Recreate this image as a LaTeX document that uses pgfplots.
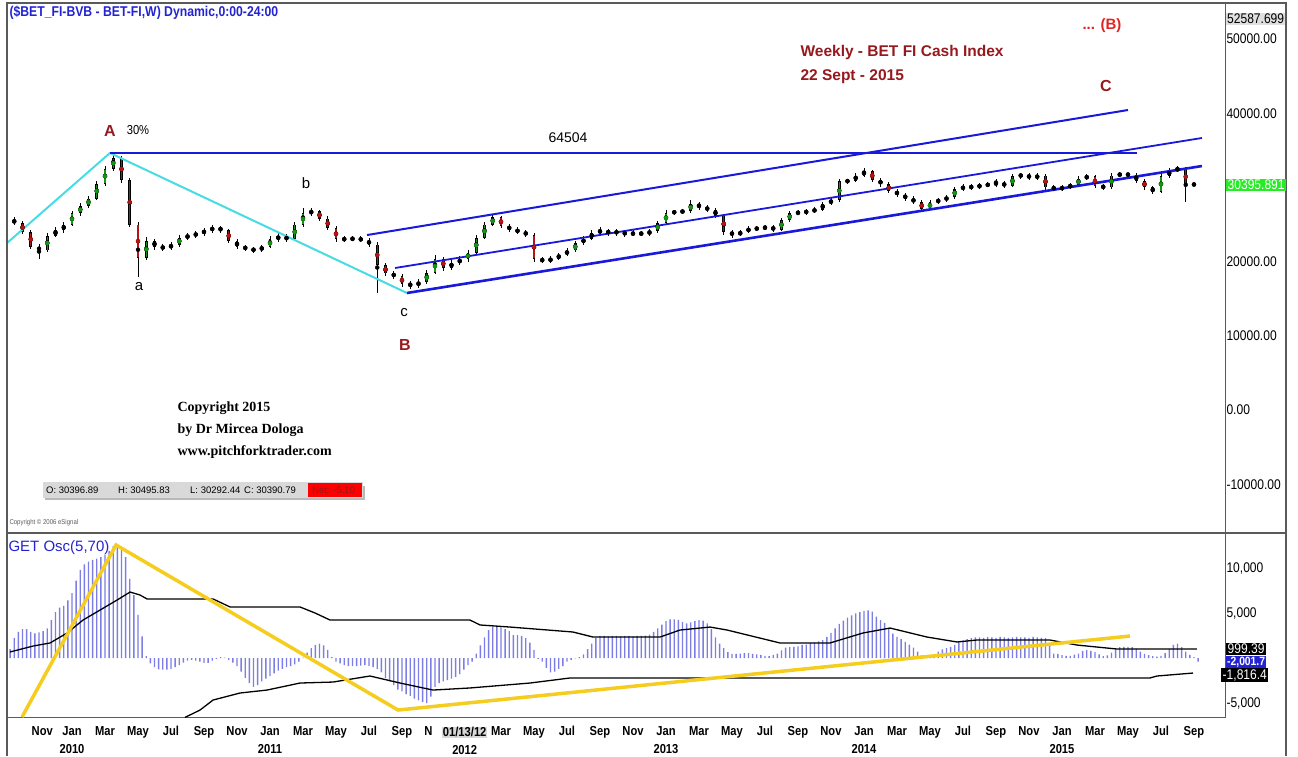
\documentclass[border=0pt]{standalone}
\usepackage{pgfplots}
\pgfplotsset{compat=1.18}
\usepackage{pgfplotstable}
\usepackage{fontspec}
\setmainfont{Liberation Sans}
\newfontfamily\serifb{Liberation Serif}
\newfontfamily\narrow{Liberation Sans}[FakeStretch=0.86]
\setlength{\fboxsep}{1pt}

\definecolor{darkred}{RGB}{150,25,30}
\definecolor{brred}{RGB}{225,35,35}
\definecolor{ttlblue}{RGB}{35,35,210}
\definecolor{pfblue}{RGB}{25,25,220}
\definecolor{cyanl}{RGB}{70,220,225}
\definecolor{yell}{RGB}{245,205,30}
\definecolor{histc}{RGB}{125,125,230}
\definecolor{cgreen}{RGB}{20,150,20}
\definecolor{cred}{RGB}{180,20,20}
\definecolor{framec}{RGB}{90,90,90}
\definecolor{valgreen}{RGB}{40,235,40}

% weekly BET-FI, sampled every half month; t = months since Jan 2010
\pgfplotstableread{
t o h l c
-3.5 25600 26000 24900 25200
-3.0 25200 25500 23700 24000
-2.5 24000 24300 21700 22000
-2.0 22000 22400 20300 21500
-1.5 21500 23800 21300 23500
-1.0 23500 24600 23300 24200
-0.5 24200 25300 23900 25000
0.0 25000 26800 24800 26500
0.5 26500 27900 26200 27500
1.0 27500 28900 27200 28500
1.5 28500 30800 28300 30500
2.0 30500 32900 30200 32500
2.5 32500 34600 32200 34000
3.0 34000 34300 30600 31000
3.5 31000 31300 24600 25000
4.0 25000 25300 17900 20500
4.5 20500 23300 20200 22800
5.0 22800 23100 21600 22000
5.5 22000 22400 21400 21800
6.0 21800 22700 21500 22300
6.5 22300 23600 22000 23200
7.0 23200 23900 22900 23500
7.5 23500 24100 23200 23800
8.0 23800 24500 23500 24200
8.5 24200 24900 23900 24600
9.0 24600 24800 23900 24200
9.5 24200 24400 22500 22800
10.0 22800 23000 21700 22000
10.5 22000 22300 21400 21700
11.0 21700 22000 21200 21500
11.5 21500 22300 21300 22000
12.0 22000 23400 21800 23000
12.5 23000 23800 22700 23400
13.0 23400 23700 22600 23000
13.5 23000 25300 22800 25000
14.0 25000 27200 24700 26500
14.5 26500 27200 26200 26800
15.0 26800 27000 25500 25800
15.5 25800 26100 24200 24500
16.0 24500 24800 22700 23000
16.5 23000 23400 22700 23000
17.0 23000 23400 22800 23100
17.5 23100 23400 22600 22900
18.0 22900 23200 22000 22300
18.5 22300 22600 15800 19500
19.0 19500 19800 18000 18400
19.5 18400 18800 17600 18000
20.0 18000 18300 16600 17000
20.5 17000 17400 16300 16800
21.0 16800 17600 16500 17200
21.5 17200 18900 17000 18500
22.0 18500 20900 18300 20300
22.5 20300 20600 18800 19200
23.0 19200 20200 18900 19800
23.5 19800 20700 19500 20300
24.0 20300 21600 20000 21200
24.5 21200 23600 21000 23200
25.0 23200 25400 23000 25000
25.5 25000 26300 24800 26000
26.0 26000 26200 24500 24800
26.5 24800 25100 24000 24300
27.0 24300 24600 23700 24000
27.5 24000 24300 23300 23600
28.0 23600 23900 20000 20300
28.5 20300 20600 19800 20100
29.0 20100 20700 19800 20400
29.5 20400 21200 20200 20900
30.0 20900 21800 20700 21500
30.5 21500 22800 21300 22500
31.0 22500 23400 22200 23100
31.5 23100 24200 22900 23900
32.0 23900 24600 23600 24200
32.5 24200 24400 23500 23800
33.0 23800 24400 23500 24100
33.5 24100 24300 23300 23600
34.0 23600 24200 23400 23900
34.5 23900 24100 23400 23700
35.0 23700 24400 23500 24100
35.5 24100 25500 23900 25200
36.0 25200 26900 25000 26600
36.5 26600 27000 26300 26700
37.0 26700 27100 26400 26800
37.5 26800 28300 26600 27800
38.0 27800 28000 27000 27300
38.5 27300 27600 26700 27000
39.0 27000 27200 25900 26200
39.5 26200 26400 23600 24000
40.0 24000 24300 23200 23600
40.5 23600 24300 23400 24000
41.0 24000 24800 23800 24500
41.5 24500 24800 24100 24400
42.0 24400 25000 24200 24700
42.5 24700 24900 24000 24300
43.0 24300 25900 24100 25600
43.5 25600 26800 25400 26500
44.0 26500 26900 26300 26600
44.5 26600 27100 26300 26800
45.0 26800 27300 26500 27000
45.5 27000 28100 26800 27800
46.0 27800 28600 27600 28300
46.5 28300 31100 28100 30800
47.0 30800 31200 30500 30900
47.5 30900 31900 30700 31600
48.0 31600 32600 31400 32200
48.5 32200 32400 30700 31000
49.0 31000 31300 30100 30400
49.5 30400 30700 29200 29500
50.0 29500 29800 28700 29000
50.5 29000 29300 28200 28500
51.0 28500 28800 27700 28000
51.5 28000 28300 26800 27100
52.0 27100 28300 26900 28000
52.5 28000 28600 27800 28300
53.0 28300 29000 28000 28700
53.5 28700 30100 28500 29800
54.0 29800 30400 29500 30100
54.5 30100 30400 29700 30000
55.0 30000 30600 29800 30300
55.5 30300 30700 30000 30400
56.0 30400 31200 30100 30600
56.5 30600 30900 29900 30200
57.0 30200 31800 30000 31500
57.5 31500 32000 31200 31700
58.0 31700 31900 31000 31300
58.5 31300 31900 31000 31600
59.0 31600 31800 29700 30000
59.5 30000 30300 29500 29800
60.0 29800 30300 29500 30000
60.5 30000 30600 29800 30300
61.0 30300 31500 30100 31200
61.5 31200 31800 31000 31500
62.0 31500 31700 29900 30200
62.5 30200 30400 29700 30000
63.0 30000 31900 29800 31600
63.5 31600 32100 31400 31800
64.0 31800 32000 31400 31700
64.5 31700 31900 30600 30900
65.0 30900 31100 29700 30000
65.5 30000 30200 29100 29400
66.0 29400 31800 29200 31500
66.5 31500 32600 31300 32300
67.0 32300 32900 32100 32500
67.5 32500 32700 28000 30400
68.0 30396.89 30495.83 30292.44 30390.79
}\candles

% GET oscillator (5,70), weekly
\pgfplotstableread{
t v
-3.75 1000
-3.5 2200
-3.25 2900
-3 3200
-2.75 3200
-2.5 2900
-2.25 2750
-2 2850
-1.75 3000
-1.5 3300
-1.25 4200
-1 5100
-0.75 5600
-0.5 5800
-0.25 6400
0 7200
0.25 8600
0.5 9800
0.75 10400
1 10700
1.25 10900
1.5 11050
1.75 11200
2 11500
2.25 11900
2.5 12450
2.75 12550
3 12000
3.25 11200
3.5 8800
3.75 7000
4 4800
4.25 2400
4.5 200
4.75 -600
5 -1000
5.25 -1250
5.5 -1300
5.75 -1300
6 -1200
6.25 -1000
6.5 -800
6.75 -500
7 -300
7.25 -200
7.5 -300
7.75 -400
8 -550
8.25 -550
8.5 -300
8.75 -100
9 100
9.25 50
9.5 -200
9.75 -500
10 -900
10.25 -1500
10.5 -2200
10.75 -2800
11 -3200
11.25 -3000
11.5 -2600
11.75 -2300
12 -2000
12.25 -1700
12.5 -1400
12.75 -1200
13 -1000
13.25 -900
13.5 -700
13.75 -400
14 50
14.25 600
14.5 1100
14.75 1450
15 1600
15.25 1400
15.5 900
15.75 100
16 -400
16.25 -600
16.5 -800
16.75 -900
17 -900
17.25 -900
17.5 -850
17.75 -800
18 -900
18.25 -1000
18.5 -1200
18.75 -1600
19 -2200
19.25 -2600
19.5 -3000
19.75 -3500
20 -3700
20.25 -4000
20.5 -4200
20.75 -4500
21 -4700
21.25 -4900
21.5 -5000
21.75 -4300
22 -3200
22.25 -2800
22.5 -2600
22.75 -2450
23 -2300
23.25 -2100
23.5 -1800
23.75 -1300
24 -800
24.25 -400
24.5 500
24.75 1400
25 2300
25.25 3100
25.5 3500
25.75 3500
26 3400
26.25 3200
26.5 3000
26.75 2550
27 2550
27.25 2450
27.5 2200
27.75 1700
28 900
28.25 -100
28.5 -400
28.75 -1100
29 -1600
29.25 -1500
29.5 -1200
29.75 -900
30 -400
30.25 -200
30.5 -50
30.75 100
31 400
31.25 1000
31.5 1600
31.75 2200
32 2450
32.25 2450
32.5 2400
32.75 2450
33 2450
33.25 2400
33.5 2450
33.75 2450
34 2400
34.25 2450
34.5 2450
34.75 2500
35 2600
35.25 2900
35.5 3300
35.75 3700
36 4100
36.25 4300
36.5 4300
36.75 4250
37 4000
37.25 3850
37.5 3950
37.75 4100
38 4200
38.25 4150
38.5 3850
38.75 3200
39 2300
39.25 1600
39.5 1100
39.75 650
40 450
40.25 450
40.5 480
40.75 550
41 550
41.25 450
41.5 400
41.75 350
42 250
42.25 200
42.5 350
42.75 500
43 850
43.25 1150
43.5 1200
43.75 1250
44 1300
44.25 1450
44.5 1500
44.75 1650
45 1750
45.25 1850
45.5 2000
45.75 2350
46 2800
46.25 3300
46.5 3800
46.75 4150
47 4500
47.25 4750
47.5 4950
47.75 5100
48 5250
48.25 5300
48.5 5150
48.75 4600
49 4200
49.25 3900
49.5 3300
49.75 2700
50 2350
50.25 2100
50.5 1800
50.75 1500
51 1150
51.25 700
51.5 300
51.75 150
52 200
52.25 300
52.5 700
52.75 950
53 1100
53.25 1250
53.5 1450
53.75 1750
54 1950
54.25 2100
54.5 2200
54.75 2300
55 2300
55.25 2250
55.5 2350
55.75 2300
56 2250
56.25 2350
56.5 2300
56.75 2250
57 2300
57.25 2350
57.5 2300
57.75 2300
58 2250
58.25 2350
58.5 2300
58.75 2250
59 2200
59.25 1500
59.5 500
59.75 450
60 330
60.25 250
60.5 250
60.75 380
61 500
61.25 780
61.5 880
61.75 800
62 650
62.25 400
62.5 200
62.75 300
63 600
63.25 950
63.5 1200
63.75 1250
64 1250
64.25 1200
64.5 1050
64.75 700
65 450
65.25 330
65.5 200
65.75 150
66 250
66.25 550
66.5 1000
66.75 1450
67 1600
67.25 1200
67.5 700
67.75 350
68 100
68.25 -400
}\osc

\begin{document}
\begin{tikzpicture}

% ---- price panel
\begin{axis}[
  at={(7pt,-533pt)}, anchor=south west, scale only axis,
  width=1219pt, height=530pt,
  xmin=-3.94, xmax=69.94, ymin=-16577, ymax=54852,
  axis line style={draw=framec, line width=1pt},
  xtick=\empty, scaled y ticks=false,
  ytick={-10000,0,10000,20000,40000,50000},
  yticklabels={-10000.00,0.00,10000.00,20000.00,40000.00,50000.00},
  yticklabel pos=right, major tick length=0pt,
  yticklabel style={font=\narrow\fontsize{14}{14}\selectfont, anchor=west, xshift=-3pt},
]
% wicks
\addplot[only marks, mark=none, black, error bars/.cd, y dir=both, y explicit,
  error mark=none, error bar style={draw=black, line width=0.7pt}]
  table[x=t, y expr={0.5*(\thisrow{h}+\thisrow{l})},
        y error expr={0.5*(\thisrow{h}-\thisrow{l})}] {\candles};
% bodies
\addplot[only marks, mark=none, black, error bars/.cd, y dir=both, y explicit,
  error mark=none, error bar style={draw=black, line width=2.6pt}]
  table[x=t, y expr={0.5*(\thisrow{o}+\thisrow{c})},
        y error expr={max(0.5*abs(\thisrow{c}-\thisrow{o}),130)}] {\candles};
\addplot[only marks, mark=none, cgreen,
  restrict expr to domain={\thisrow{c}-\thisrow{o}}{900:100000},
  error bars/.cd, y dir=both, y explicit,
  error mark=none, error bar style={draw=cgreen, line width=1.4pt}]
  table[x=t, y expr={0.5*(\thisrow{o}+\thisrow{c})},
        y error expr={0.5*(\thisrow{c}-\thisrow{o})-120}] {\candles};
\addplot[only marks, mark=none, cred,
  restrict expr to domain={\thisrow{o}-\thisrow{c}}{900:100000},
  error bars/.cd, y dir=both, y explicit,
  error mark=none, error bar style={draw=cred, line width=1.4pt}]
  table[x=t, y expr={0.5*(\thisrow{o}+\thisrow{c})},
        y error expr={0.5*(\thisrow{o}-\thisrow{c})-120}] {\candles};
% wave lines and pitchfork
\addplot[cyanl, line width=2pt] coordinates {(-3.94,22500) (2.30,34640) (20.30,15770)};
\addplot[pfblue, line width=1.2pt] coordinates {(2.30,34640) (64.55,34640)};
\addplot[pfblue, line width=2pt] coordinates {(17.88,23580) (64.0,40430)};
\addplot[pfblue, line width=1.8pt] coordinates {(19.58,19140) (68.48,36660)};
\addplot[pfblue, line width=2.6pt] coordinates {(20.30,15770) (68.48,32880)};
\end{axis}

% ---- oscillator panel
\begin{axis}[
  at={(7pt,-717pt)}, anchor=south west, scale only axis,
  width=1219pt, height=184pt,
  xmin=-3.94, xmax=69.94, ymin=-6556, ymax=13889,
  axis line style={draw=framec, line width=1pt},
  scaled y ticks=false,
  xtick={-1.8,0,2,4,6,8,10,12,14,16,18,20,21.6,23.8,26,28,30,32,34,36,38,40,42,44,46,48,50,52,54,56,58,60,62,64,66,68},
  xticklabels={Nov,{Jan\\2010},Mar,May,Jul,Sep,Nov,{Jan\\2011},Mar,May,Jul,Sep,N,{\colorbox{gray!30}{01/13/12}\\2012},
    Mar,May,Jul,Sep,Nov,{Jan\\2013},Mar,May,Jul,Sep,Nov,{Jan\\2014},Mar,May,Jul,Sep,Nov,{Jan\\2015},Mar,May,Jul,Sep},
  xticklabel style={font=\narrow\bfseries\fontsize{13}{18}\selectfont, align=center, anchor=north, yshift=-6pt},
  ytick={-5000,5000,10000},
  yticklabels={{-5,000},{5,000},{10,000}},
  yticklabel pos=right, major tick length=0pt,
  yticklabel style={font=\narrow\fontsize{14}{14}\selectfont, anchor=west, xshift=-3pt},
]
\addplot[ybar, bar width=1.4pt, fill=histc, draw=none] table[x=t, y=v] {\osc};
\addplot[black, line width=1.3pt] coordinates {(-3.76,670) (-2.36,1330) (-1.33,1670) (-0.30,2780) (0.67,4220) (1.70,5330) (2.73,6440) (3.52,7330) (4.12,7000) (4.55,6560) (8.55,6560) (9.58,5670) (13.82,5670) (14.73,5000) (15.64,4220) (24.12,4220) (24.73,3670) (26.55,3440) (30.36,2890) (31.58,2330) (35.64,2330) (36.85,3110) (38.67,3440) (39.70,3110) (42.91,1670) (45.94,1670) (47.94,2780) (49.58,3330) (51.82,2330) (53.64,1780) (54.85,2000) (59.27,2000) (60.91,1440) (63.33,1000) (68.18,1000)};
\addplot[black, line width=1.3pt] coordinates {(6.85,-6600) (7.76,-5780) (8.55,-4670) (10.18,-3890) (11.82,-3560) (13.82,-2780) (15.82,-2670) (18.06,-2000) (19.88,-2780) (21.88,-3560) (24.12,-3330) (27.76,-2780) (30.18,-2220) (65.33,-2220) (65.76,-2000) (67.94,-1670)};
\addplot[yell, line width=3.5pt] coordinates {(-3.03,-6556) (2.67,12560) (19.76,-5780) (64.12,2440)};
\end{axis}

\begin{scope}[x=1pt,y=1pt]
% frame
\draw[framec, line width=1.2pt] (7,-756) -- (7,-3) -- (1286,-3) -- (1286,-756);
\draw[framec, line width=1.2pt] (7,-533) -- (1286,-533);

% value boxes on the scale
\node[fill=gray!25, inner sep=1pt, anchor=west, font=\narrow\fontsize{14}{14}\selectfont] at (1226,-19) {52587.699};
\node[fill=valgreen, text=white, inner sep=1.5pt, anchor=west, font=\narrow\fontsize{14}{14}\selectfont] at (1226,-185) {30395.891};
\node[fill=ttlblue, text=white, inner sep=1pt, anchor=west, font=\narrow\bfseries\fontsize{12}{12}\selectfont] at (1226,-662) {-2,001.7};
\node[fill=black, text=white, inner sep=1.5pt, anchor=west, font=\narrow\fontsize{14}{14}\selectfont] at (1226,-649) {999.39};
\node[fill=black, text=white, inner sep=1.5pt, anchor=west, font=\narrow\fontsize{14}{14}\selectfont] at (1221,-675) {-1,816.4};

% titles
\node[anchor=west, text=ttlblue, font=\narrow\bfseries\fontsize{14.2}{15}\selectfont] at (6,-13) {(\$BET\_FI-BVB - BET-FI,W) Dynamic,0:00-24:00};
\node[anchor=west, text=ttlblue, font=\fontsize{15}{15}\selectfont] at (5,-548) {GET Osc(5,70)};
\node[anchor=west, text=darkred, font=\bfseries\fontsize{15.5}{16}\selectfont] at (797,-52) {Weekly - BET FI Cash Index};
\node[anchor=west, text=darkred, font=\bfseries\fontsize{15.5}{16}\selectfont] at (797,-77) {22 Sept - 2015};
\node[text=brred, font=\bfseries\fontsize{15}{16}\selectfont] at (1102,-26) {... (B)};
\node[text=darkred, font=\bfseries\fontsize{16}{16}\selectfont] at (1106,-86) {C};

% wave labels
\node[text=darkred, font=\bfseries\fontsize{16}{16}\selectfont] at (110,-131) {A};
\node[font=\narrow\fontsize{13}{13}\selectfont] at (138,-130) {30\%};
\node[font=\fontsize{14}{14}\selectfont] at (568,-138) {64504};
\node[font=\fontsize{15}{15}\selectfont] at (306,-183) {b};
\node[font=\fontsize{15}{15}\selectfont] at (139,-287) {a};
\node[font=\fontsize{15}{15}\selectfont] at (404,-313) {c};
\node[text=darkred, font=\bfseries\fontsize{16}{16}\selectfont] at (405,-345) {B};

% copyright
\node[anchor=west, font=\serifb\bfseries\fontsize{14}{14}\selectfont] at (174,-408) {Copyright 2015};
\node[anchor=west, font=\serifb\bfseries\fontsize{14}{14}\selectfont] at (174,-430) {by Dr Mircea Dologa};
\node[anchor=west, font=\serifb\bfseries\fontsize{14}{14}\selectfont] at (174,-452) {www.pitchforktrader.com};
\node[anchor=west, text=gray!70!black, font=\narrow\fontsize{7}{7}\selectfont] at (6,-523) {Copyright \textcopyright{} 2006 eSignal};

% OHLC box
\fill[gray!55] (45,-486) rectangle (365,-500);
\fill[gray!30] (43,-482) rectangle (363,-498);
\fill[red] (308,-483) rectangle (362,-497);
\begin{scope}[font=\fontsize{9.5}{10}\selectfont]
\node[anchor=west, inner sep=0pt] at (46,-490) {O: 30396.89};
\node[anchor=west, inner sep=0pt] at (118,-490) {H: 30495.83};
\node[anchor=west, inner sep=0pt] at (190,-490) {L: 30292.44};
\node[anchor=west, inner sep=0pt] at (244,-490) {C: 30390.79};
\node[anchor=west, inner sep=0pt, text=darkred] at (312,-490) {Net: -5.10};
\end{scope}
\end{scope}

\pgfresetboundingbox
\path[use as bounding box] (0pt,-756pt) rectangle (1298pt,0pt);
\end{tikzpicture}
\end{document}
